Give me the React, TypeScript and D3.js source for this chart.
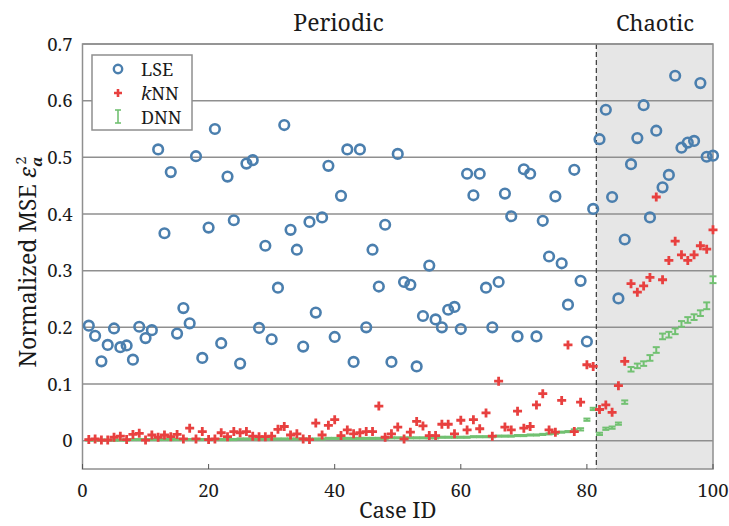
import React from "react";
import * as d3 from "d3";

// case ids 1..100
const lse = [
  0.203, 0.185, 0.14, 0.169, 0.198, 0.165, 0.168, 0.143, 0.201, 0.181,
  0.195, 0.514, 0.366, 0.474, 0.189, 0.234, 0.207, 0.502, 0.146, 0.376,
  0.55, 0.172, 0.466, 0.389, 0.136, 0.489, 0.495, 0.199, 0.344, 0.179,
  0.27, 0.557, 0.372, 0.337, 0.166, 0.386, 0.226, 0.394, 0.485, 0.183,
  0.432, 0.514, 0.139, 0.514, 0.2, 0.337, 0.272, 0.381, 0.139, 0.506,
  0.28, 0.275, 0.131, 0.22, 0.309, 0.214, 0.2, 0.231, 0.236, 0.197,
  0.471, 0.433, 0.471, 0.27, 0.2, 0.28, 0.436, 0.396, 0.184, 0.479,
  0.471, 0.184, 0.388, 0.325, 0.431, 0.313, 0.24, 0.478, 0.282, 0.175,
  0.409, 0.532, 0.584, 0.43, 0.251, 0.355, 0.488, 0.534, 0.592, 0.394,
  0.547, 0.447, 0.469, 0.644, 0.517, 0.526, 0.529, 0.631, 0.501, 0.503,
];

const knn = [
  0.002, 0.003, 0.001, 0.001, 0.006, 0.008, 0.002, 0.011, 0.013, 0.001,
  0.01, 0.006, 0.01, 0.007, 0.011, 0.003, 0.022, 0.003, 0.016, 0.002,
  0.003, 0.014, 0.007, 0.016, 0.014, 0.016, 0.008, 0.007, 0.007, 0.008,
  0.02, 0.025, 0.01, 0.012, 0.003, 0.002, 0.031, 0.01, 0.027, 0.037,
  0.009, 0.019, 0.012, 0.014, 0.016, 0.016, 0.061, 0.006, 0.012, 0.024,
  0.003, 0.015, 0.034, 0.026, 0.009, 0.009, 0.029, 0.029, 0.012, 0.036,
  0.019, 0.037, 0.021, 0.049, 0.008, 0.105, 0.024, 0.019, 0.052, 0.022,
  0.025, 0.063, 0.083, 0.019, 0.015, 0.071, 0.169, 0.016, 0.068, 0.134,
  0.131, 0.055, 0.063, 0.05, 0.097, 0.14, 0.277, 0.262, 0.273, 0.288,
  0.43, 0.284, 0.318, 0.352, 0.328, 0.318, 0.328, 0.344, 0.338, 0.372,
];

const dnn = [
  0.001, 0.001, 0.001, 0.001, 0.001, 0.001, 0.001, 0.002, 0.002, 0.002,
  0.002, 0.002, 0.002, 0.002, 0.002, 0.002, 0.002, 0.002, 0.002, 0.002,
  0.002, 0.002, 0.002, 0.002, 0.003, 0.003, 0.003, 0.003, 0.003, 0.003,
  0.003, 0.003, 0.003, 0.003, 0.003, 0.003, 0.003, 0.003, 0.004, 0.004,
  0.004, 0.004, 0.004, 0.004, 0.004, 0.004, 0.004, 0.004, 0.005, 0.005,
  0.005, 0.005, 0.005, 0.005, 0.005, 0.005, 0.006, 0.006, 0.006, 0.006,
  0.006, 0.007, 0.007, 0.007, 0.007, 0.008, 0.008, 0.008, 0.009, 0.009,
  0.01, 0.01, 0.011, 0.012, 0.013, 0.015, 0.016, 0.018, 0.02, 0.037,
  0.056, 0.012, 0.021, 0.023, 0.03, 0.068, 0.126, 0.132, 0.136, 0.146,
  0.16, 0.184, 0.187, 0.193, 0.206, 0.213, 0.218, 0.225, 0.238, 0.284,
];

const dnnErr = [
  0.001, 0.001, 0.001, 0.001, 0.001, 0.001, 0.001, 0.001, 0.001, 0.001,
  0.001, 0.001, 0.001, 0.001, 0.001, 0.001, 0.001, 0.001, 0.001, 0.001,
  0.001, 0.001, 0.001, 0.001, 0.001, 0.001, 0.001, 0.001, 0.001, 0.001,
  0.001, 0.001, 0.001, 0.001, 0.001, 0.001, 0.001, 0.001, 0.001, 0.001,
  0.001, 0.001, 0.001, 0.001, 0.001, 0.001, 0.001, 0.001, 0.001, 0.001,
  0.001, 0.001, 0.001, 0.001, 0.001, 0.001, 0.001, 0.001, 0.001, 0.001,
  0.001, 0.001, 0.001, 0.001, 0.001, 0.001, 0.001, 0.001, 0.001, 0.001,
  0.001, 0.001, 0.001, 0.001, 0.001, 0.001, 0.001, 0.002, 0.002, 0.002,
  0.002, 0.002, 0.002, 0.002, 0.002, 0.003, 0.004, 0.004, 0.004, 0.005,
  0.005, 0.005, 0.005, 0.005, 0.005, 0.005, 0.005, 0.005, 0.006, 0.006,
];

const yTicks = [0, 0.1, 0.2, 0.3, 0.4, 0.5, 0.6, 0.7];
const yTickLabels = ["0", "0.1", "0.2", "0.3", "0.4", "0.5", "0.6", "0.7"];
const xTicks = [0, 20, 40, 60, 80, 100];
const regimeSplit = 81.5;

const width = 729;
const height = 526;
const margin = { top: 44, right: 16, bottom: 57, left: 82.5 };

// plain "serif" falls back to a sans face here, so name the fonts
const serif = "Noto Serif, DejaVu Serif";
const blue = "#4b7fae";
const red = "#e8403f";
const green = "#72c172";
const gridColor = "#8f8f8f";
const ink = "#1a1a1a";

export default function App() {
  const x = d3
    .scaleLinear()
    .domain([0, 100])
    .range([margin.left, width - margin.right]);
  const y = d3
    .scaleLinear()
    .domain([-0.05, 0.7])
    .range([height - margin.bottom, margin.top]);

  const cases = d3.range(1, lse.length + 1);
  const [x0, x1] = x.range();
  const [yb, yt] = y.range();

  return (
    <svg
      width={width}
      height={height}
      style={{ position: "absolute", left: 0, top: 0, background: "#fff" }}
      fontFamily={serif}
    >
      {/* chaotic region shading */}
      <rect
        x={x(regimeSplit)}
        y={yt}
        width={x1 - x(regimeSplit)}
        height={yb - yt}
        fill="#e6e6e6"
      />

      {/* horizontal grid */}
      {yTicks.map((t) => (
        <line
          key={t}
          x1={x0}
          x2={x1}
          y1={y(t)}
          y2={y(t)}
          stroke={gridColor}
          strokeWidth={1.5}
        />
      ))}

      {/* split line */}
      <line
        x1={x(regimeSplit)}
        x2={x(regimeSplit)}
        y1={yt}
        y2={yb}
        stroke="#444"
        strokeWidth={1.3}
        strokeDasharray="5,3"
      />

      {/* frame */}
      <rect
        x={x0}
        y={yt}
        width={x1 - x0}
        height={yb - yt}
        fill="none"
        stroke={gridColor}
        strokeWidth={1.5}
      />

      {/* x ticks */}
      {xTicks.map((t) => (
        <g key={t}>
          <line
            x1={x(t)}
            x2={x(t)}
            y1={yb}
            y2={yb - 5}
            stroke="#555"
            strokeWidth={1}
          />
          <text
            x={x(t)}
            y={yb + 28}
            textAnchor="middle"
            fontSize={18.5}
            fill={ink}
          >
            {t}
          </text>
        </g>
      ))}

      {/* y tick labels */}
      {yTicks.map((t, i) => (
        <text
          key={t}
          x={x0 - 10}
          y={y(t)}
          dy="0.36em"
          textAnchor="end"
          fontSize={18.5}
          fill={ink}
        >
          {yTickLabels[i]}
        </text>
      ))}

      {/* DNN error bars */}
      {cases.map((c, i) => {
        const lo = y(dnn[i] - dnnErr[i]);
        const hi = y(dnn[i] + dnnErr[i]);
        const cx = x(c);
        return (
          <g key={"d" + c} stroke={green} strokeWidth={2}>
            <line x1={cx} x2={cx} y1={lo} y2={hi} />
            <line x1={cx - 3.5} x2={cx + 3.5} y1={lo} y2={lo} />
            <line x1={cx - 3.5} x2={cx + 3.5} y1={hi} y2={hi} />
          </g>
        );
      })}

      {/* kNN pluses */}
      {cases.map((c, i) => {
        const cx = x(c);
        const cy = y(knn[i]);
        return (
          <path
            key={"k" + c}
            d={`M${cx - 4.5},${cy}H${cx + 4.5}M${cx},${cy - 4.5}V${cy + 4.5}`}
            stroke={red}
            strokeWidth={2.8}
          />
        );
      })}

      {/* LSE circles */}
      {cases.map((c, i) => (
        <circle
          key={"l" + c}
          cx={x(c)}
          cy={y(lse[i])}
          r={4.8}
          fill="none"
          stroke={blue}
          strokeWidth={2.6}
        />
      ))}

      {/* legend */}
      <g>
        <rect
          x={92}
          y={55}
          width={100}
          height={75}
          fill="#fff"
          stroke={gridColor}
          strokeWidth={1.5}
        />
        <circle cx={118} cy={69} r={4.2} fill="none" stroke={blue} strokeWidth={2.4} />
        <path d="M114,93H122M118,89V97" stroke={red} strokeWidth={2.6} />
        <g stroke={green} strokeWidth={1.6}>
          <line x1={118} x2={118} y1={110} y2={123} />
          <line x1={115} x2={121} y1={110} y2={110} />
          <line x1={115} x2={121} y1={123} y2={123} />
        </g>
        <text x={141} y={75.5} fontSize={18} fill={ink}>LSE</text>
        <text x={141} y={99.5} fontSize={18} fill={ink}>
          <tspan fontStyle="italic">k</tspan>NN
        </text>
        <text x={141} y={123.5} fontSize={18} fill={ink}>DNN</text>
      </g>

      {/* regime titles */}
      <text x={x(40.6)} y={31} textAnchor="middle" fontSize={23} fill={ink}>
        Periodic
      </text>
      <text x={x(90.8)} y={31} textAnchor="middle" fontSize={22} fill={ink}>
        Chaotic
      </text>

      {/* axis labels */}
      <text
        x={(x0 + x1) / 2}
        y={height - 8}
        textAnchor="middle"
        fontSize={22}
        fill={ink}
      >
        Case ID
      </text>
      <text
        transform={`translate(36, 262) rotate(-90)`}
        textAnchor="middle"
        fontSize={23}
        fill={ink}
      >
        Normalized MSE <tspan fontStyle="italic">ε</tspan>
        <tspan dy={6} fontSize={15} fontWeight="bold" fontStyle="italic">a</tspan>
        <tspan dx={-8} dy={-16} fontSize={15}>2</tspan>
      </text>
    </svg>
  );
}
